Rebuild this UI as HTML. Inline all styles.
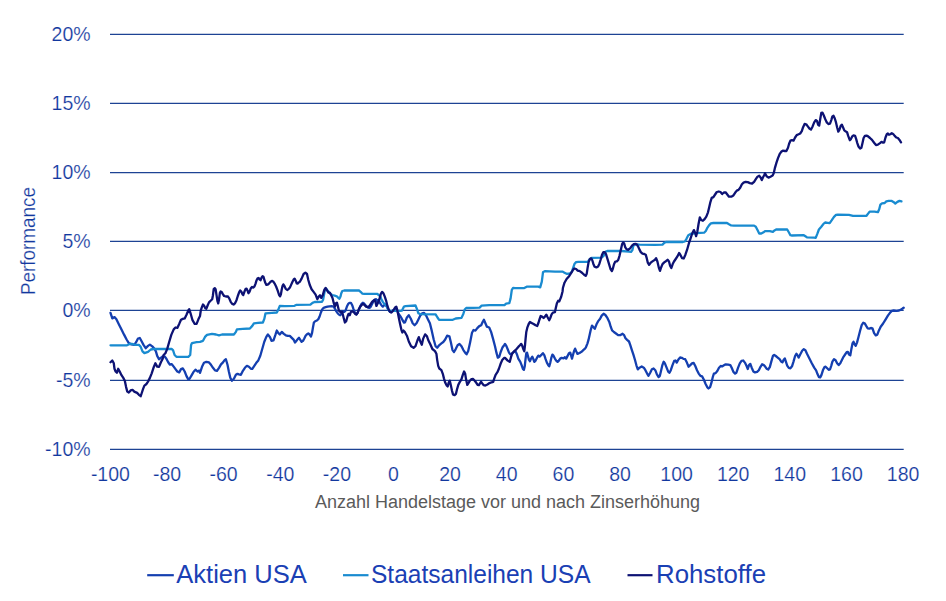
<!DOCTYPE html>
<html><head><meta charset="utf-8"><title>Chart</title>
<style>html,body{margin:0;padding:0;background:#fff;}svg{display:block;}text{font-family:"Liberation Sans",sans-serif;}.thin{stroke:#fff;stroke-width:0.2px;}</style></head><body>
<svg width="946" height="601" viewBox="0 0 946 601">
<rect width="946" height="601" fill="#ffffff"/>
<line x1="110.0" y1="34.4" x2="903.7" y2="34.4" stroke="#1d4394" stroke-width="1.25"/>
<line x1="110.0" y1="103.45" x2="903.7" y2="103.45" stroke="#1d4394" stroke-width="1.25"/>
<line x1="110.0" y1="172.5" x2="903.7" y2="172.5" stroke="#1d4394" stroke-width="1.25"/>
<line x1="110.0" y1="241.4" x2="903.7" y2="241.4" stroke="#1d4394" stroke-width="1.25"/>
<line x1="110.0" y1="310.4" x2="903.7" y2="310.4" stroke="#1d4394" stroke-width="1.25"/>
<line x1="110.0" y1="380.3" x2="903.7" y2="380.3" stroke="#1d4394" stroke-width="1.25"/>
<line x1="110.0" y1="449.3" x2="903.7" y2="449.3" stroke="#1d4394" stroke-width="1.25"/>
<text x="90.6" y="40.6" text-anchor="end" font-size="19.5" class="thin" fill="#12389e">20%</text>
<text x="90.6" y="109.7" text-anchor="end" font-size="19.5" class="thin" fill="#12389e">15%</text>
<text x="90.6" y="178.7" text-anchor="end" font-size="19.5" class="thin" fill="#12389e">10%</text>
<text x="90.6" y="247.6" text-anchor="end" font-size="19.5" class="thin" fill="#12389e">5%</text>
<text x="90.6" y="316.6" text-anchor="end" font-size="19.5" class="thin" fill="#12389e">0%</text>
<text x="90.6" y="386.5" text-anchor="end" font-size="19.5" class="thin" fill="#12389e">-5%</text>
<text x="90.6" y="455.5" text-anchor="end" font-size="19.5" class="thin" fill="#12389e">-10%</text>
<text x="110.4" y="480.6" text-anchor="middle" font-size="19.5" class="thin" fill="#12389e">-100</text>
<text x="167.0" y="480.6" text-anchor="middle" font-size="19.5" class="thin" fill="#12389e">-80</text>
<text x="223.6" y="480.6" text-anchor="middle" font-size="19.5" class="thin" fill="#12389e">-60</text>
<text x="280.3" y="480.6" text-anchor="middle" font-size="19.5" class="thin" fill="#12389e">-40</text>
<text x="336.9" y="480.6" text-anchor="middle" font-size="19.5" class="thin" fill="#12389e">-20</text>
<text x="393.5" y="480.6" text-anchor="middle" font-size="19.5" class="thin" fill="#12389e">0</text>
<text x="450.1" y="480.6" text-anchor="middle" font-size="19.5" class="thin" fill="#12389e">20</text>
<text x="506.7" y="480.6" text-anchor="middle" font-size="19.5" class="thin" fill="#12389e">40</text>
<text x="563.4" y="480.6" text-anchor="middle" font-size="19.5" class="thin" fill="#12389e">60</text>
<text x="620.0" y="480.6" text-anchor="middle" font-size="19.5" class="thin" fill="#12389e">80</text>
<text x="676.6" y="480.6" text-anchor="middle" font-size="19.5" class="thin" fill="#12389e">100</text>
<text x="733.2" y="480.6" text-anchor="middle" font-size="19.5" class="thin" fill="#12389e">120</text>
<text x="789.8" y="480.6" text-anchor="middle" font-size="19.5" class="thin" fill="#12389e">140</text>
<text x="846.5" y="480.6" text-anchor="middle" font-size="19.5" class="thin" fill="#12389e">160</text>
<text x="903.1" y="480.6" text-anchor="middle" font-size="19.5" class="thin" fill="#12389e">180</text>
<text transform="translate(35.2,295) rotate(-90)" font-size="20" class="thin" textLength="108" lengthAdjust="spacingAndGlyphs" fill="#12389e">Performance</text>
<text x="315" y="507.6" font-size="18" textLength="385" lengthAdjust="spacingAndGlyphs" fill="#5a5a5a">Anzahl Handelstage vor und nach Zinserhöhung</text>
<polyline fill="none" stroke="#143fb0" stroke-width="2.3" stroke-linejoin="round" stroke-linecap="round" points="110.5,312.9 112.3,318.4 114.5,317.1 116.4,319.3 118.7,323.9 121.5,329.4 124.2,334.9 126.6,339.5 128.8,343.1 131.6,344.4 134.3,344.9 136.1,342.2 138.0,338.5 139.8,338.0 141.6,341.3 143.5,344.9 145.7,348.2 148.0,345.9 149.9,344.6 152.3,346.4 154.1,348.2 155.9,351.4 157.2,355.9 159.0,359.2 160.9,357.8 162.7,356.3 164.5,356.3 166.4,358.7 168.2,362.3 170.0,364.7 171.8,364.2 173.7,366.6 175.5,369.1 177.3,371.5 179.2,372.4 181.0,369.1 182.8,368.4 184.7,371.5 186.5,376.1 188.3,379.4 189.6,378.8 192.0,374.6 193.8,371.5 195.7,369.7 197.5,371.5 199.3,370.6 200.0,372.8 202.0,366.8 204.0,362.8 206.4,361.8 209.0,362.4 211.0,364.8 213.0,367.8 215.0,370.4 217.0,370.8 219.0,367.8 221.0,364.4 223.0,362.4 224.4,360.4 225.9,359.2 227.5,364.8 228.9,371.8 230.3,377.8 231.9,380.8 233.9,378.8 235.9,374.8 237.5,373.8 238.9,374.4 240.9,374.8 242.9,370.8 244.9,367.8 246.9,365.8 248.9,366.8 250.9,368.8 252.3,368.8 254.3,365.8 256.3,362.8 258.3,360.4 260.3,355.8 262.3,348.8 264.3,341.8 266.3,336.9 267.9,334.5 269.9,336.9 271.5,340.8 273.5,340.4 275.4,334.9 276.8,330.5 278.2,332.9 279.8,334.5 281.8,331.9 283.8,333.9 285.8,335.3 287.8,335.9 289.8,335.9 291.8,337.9 293.8,339.9 295.0,342.5 296.3,340.9 297.7,339.1 299.0,337.8 300.3,339.8 301.6,341.8 303.0,340.9 304.3,338.5 305.6,335.8 307.0,334.2 308.3,333.4 309.6,334.5 311.0,336.5 312.0,333.2 313.0,327.2 313.9,322.5 315.2,321.2 316.9,320.5 318.3,319.2 319.6,316.5 320.9,312.5 322.3,309.2 323.6,307.9 325.6,307.2 327.6,306.6 329.6,306.3 331.6,306.2 333.6,306.6 334.9,308.6 336.2,311.2 337.6,313.2 338.9,314.5 340.2,315.2 341.5,313.9 342.9,311.2 344.2,311.9 345.5,310.6 346.9,306.6 348.2,303.9 349.5,302.8 350.9,302.8 352.2,305.2 353.5,309.2 354.8,312.5 356.2,314.3 357.5,313.2 358.8,309.9 360.2,306.6 361.5,303.9 362.8,302.8 364.1,303.6 365.5,305.2 366.8,306.8 368.1,307.6 369.5,307.9 370.8,306.6 372.1,303.9 373.5,301.2 374.8,299.6 376.1,299.2 377.2,301.2 378.1,299.9 379.0,300.6 380.1,303.2 381.4,305.2 382.8,306.6 384.1,305.2 385.4,304.6 386.8,306.6 388.1,309.2 389.4,311.2 390.7,312.1 392.1,311.2 393.4,310.3 394.7,309.2 396.1,309.2 397.4,311.2 398.7,313.9 400.1,315.9 401.4,317.9 402.7,320.5 404.0,322.5 405.0,322.3 406.9,317.5 408.8,315.2 410.7,318.5 412.7,323.3 414.6,325.2 416.5,323.3 418.4,319.4 420.3,315.6 422.2,313.3 424.1,312.8 426.1,315.6 428.0,319.4 429.9,323.3 431.8,330.9 433.7,339.5 435.6,346.2 437.2,347.8 439.1,345.3 441.4,343.4 443.3,342.0 445.2,339.5 447.1,335.7 449.4,336.3 450.9,342.4 452.5,350.1 454.0,352.0 455.7,349.1 457.6,345.3 459.5,343.9 461.5,346.2 463.4,350.1 465.3,352.9 466.6,354.3 468.2,351.0 470.1,342.4 472.0,332.8 473.5,330.0 475.4,330.6 477.3,328.1 479.3,326.1 481.2,325.2 482.5,322.3 483.9,319.8 485.4,323.3 486.9,326.7 489.2,327.5 491.1,331.9 493.0,338.6 495.0,346.2 496.5,352.9 497.8,357.7 499.2,356.8 500.7,352.0 502.6,347.2 504.5,344.7 505.0,343.9 506.3,345.9 507.7,349.3 509.0,352.6 510.3,354.3 511.7,353.9 513.0,352.6 514.3,351.2 515.6,351.6 517.0,354.6 518.3,358.6 520.3,361.9 521.6,365.2 523.0,369.2 523.9,369.9 524.7,366.6 525.6,358.6 526.3,353.2 527.0,352.6 527.9,355.9 529.0,359.9 530.0,361.2 531.0,358.6 532.3,356.6 533.2,358.6 534.3,361.9 535.6,360.6 536.9,357.9 538.3,355.6 539.6,356.6 541.6,354.6 542.9,353.2 544.3,355.2 545.6,359.2 546.9,362.6 548.3,365.2 549.2,366.3 550.3,362.6 551.3,357.9 552.4,354.6 553.6,355.9 554.9,358.6 556.2,360.6 557.6,361.9 558.9,360.6 560.2,358.6 561.6,357.9 563.6,358.3 564.9,357.2 566.2,358.6 567.6,355.9 568.9,353.2 570.2,352.6 571.2,355.9 572.0,358.6 572.9,355.2 574.2,350.6 575.1,348.6 576.2,351.2 577.5,353.9 578.9,353.2 580.2,352.6 582.2,351.2 583.5,349.9 585.0,348.6 585.9,347.3 587.4,343.6 588.5,339.9 589.6,335.1 590.6,330.4 592.0,325.6 593.5,327.2 594.8,328.8 596.4,324.6 598.0,321.4 600.1,318.7 601.7,315.6 603.6,313.7 605.4,315.0 607.5,318.2 609.3,321.9 610.7,326.7 612.1,330.4 613.9,332.0 616.0,333.5 618.1,335.1 620.5,335.1 622.6,333.8 624.1,335.1 625.5,338.3 627.1,339.9 629.0,341.5 630.3,345.2 631.8,349.9 633.4,354.7 635.0,360.0 636.4,365.3 637.8,369.3 639.5,367.7 641.7,366.5 643.8,367.7 645.4,370.2 647.1,373.6 648.5,375.8 650.2,372.7 651.9,369.3 653.6,368.5 655.3,370.2 656.9,374.4 658.6,377.0 659.8,376.1 661.0,371.0 662.4,365.1 663.7,361.7 664.9,363.4 666.6,367.7 668.3,371.9 669.5,372.7 670.8,370.2 672.5,365.1 674.2,360.9 675.5,360.5 676.7,362.6 678.4,359.5 680.1,357.5 681.8,357.8 683.5,358.9 685.2,359.2 686.9,362.6 688.6,366.8 690.3,365.1 692.0,363.4 693.6,362.9 695.3,366.0 697.0,370.2 698.7,373.6 700.4,375.8 702.1,376.4 703.8,379.5 705.5,383.7 707.2,387.1 708.5,388.5 710.1,387.1 711.4,382.9 712.8,377.0 713.9,373.6 715.6,373.1 717.3,371.0 719.0,367.7 720.7,366.0 722.4,366.3 724.1,365.1 725.8,364.3 728.3,364.6 730.3,365.1 731.7,367.7 733.4,371.9 735.1,373.6 736.4,372.7 738.1,367.7 739.8,363.4 741.5,360.9 743.2,360.5 744.9,362.6 746.6,366.0 747.8,369.0 749.0,365.1 750.3,363.9 751.7,367.7 753.4,371.4 755.0,372.4 757.1,371.9 758.8,370.2 760.5,366.8 762.1,364.3 763.8,365.1 765.0,366.3 766.6,368.7 768.2,369.5 769.8,367.1 771.3,361.6 772.9,356.0 774.2,354.9 775.8,356.0 777.7,357.6 779.6,359.2 781.2,361.6 782.4,362.4 783.7,359.7 784.8,358.4 785.9,361.6 787.2,365.6 788.8,367.9 790.4,368.3 792.0,366.3 793.5,361.6 795.1,356.0 796.4,353.7 797.5,355.3 798.6,357.6 800.2,354.5 802.3,350.5 803.8,349.2 805.4,350.2 807.0,353.7 809.4,358.4 811.8,363.2 814.2,367.6 816.1,370.3 817.6,374.3 818.9,377.1 820.2,377.4 821.4,375.1 822.9,370.3 824.5,367.1 825.6,366.7 827.2,368.3 828.7,369.8 830.0,369.5 831.3,365.6 832.4,361.6 834.0,359.2 835.6,360.3 837.1,363.2 838.7,365.1 840.3,363.2 841.9,360.0 843.5,356.8 845.1,354.5 846.7,352.1 847.8,351.8 849.0,354.5 850.3,355.3 851.4,348.9 852.5,343.4 853.5,341.8 854.6,344.2 855.7,345.7 857.0,342.6 858.5,337.0 860.1,330.7 861.7,325.1 863.3,322.7 864.6,323.2 866.2,325.9 867.7,328.3 869.3,328.6 870.9,328.0 872.5,328.3 874.1,333.1 875.7,335.4 877.3,334.6 878.8,330.7 880.7,326.7 883.1,323.5 885.5,319.6 887.9,315.6 890.3,312.4 891.8,310.9 893.7,310.5 896.6,310.9 899.0,310.5 901.0,309.6 902.6,308.5 903.7,307.7"/>
<polyline fill="none" stroke="#198bd0" stroke-width="2.3" stroke-linejoin="round" stroke-linecap="round" points="110.5,345.3 127.0,345.3 129.7,344.0 132.5,344.0 135.2,344.9 138.9,344.9 140.7,346.8 142.5,351.4 144.4,353.2 148.0,351.9 150.8,349.5 153.5,349.0 156.3,349.0 171.8,349.0 173.1,350.4 174.6,355.0 176.4,356.8 188.3,356.8 190.2,355.0 191.1,344.9 192.0,343.1 196.6,342.2 200.0,341.8 203.0,340.8 205.0,336.9 207.0,334.9 212.0,333.9 216.0,334.5 219.0,335.3 222.0,334.5 227.9,334.5 233.9,334.5 235.9,331.9 236.9,329.3 242.9,328.9 249.9,328.5 252.3,325.9 253.9,323.3 257.9,322.9 262.9,322.5 264.3,318.9 265.5,313.3 271.9,312.9 276.8,312.5 278.2,309.9 279.8,305.9 285.0,306.1 294.5,305.8 296.6,304.8 310.4,304.7 312.5,302.9 314.6,302.0 322.0,301.8 323.1,299.7 324.1,294.4 325.0,289.7 326.0,288.6 327.8,290.7 329.4,292.8 332.0,295.0 334.7,295.7 336.8,296.3 338.4,298.1 339.4,298.7 340.5,296.5 341.2,293.4 342.3,291.0 344.2,290.5 359.0,290.5 360.6,291.8 362.2,293.6 364.3,293.9 377.0,293.9 377.4,293.9 378.8,295.3 380.1,295.9 381.4,299.2 382.8,301.9 384.1,303.6 385.4,304.6 386.8,306.6 388.1,309.2 389.4,310.8 400.1,310.8 402.0,310.6 403.0,308.6 404.0,306.6 405.4,306.2 415.5,305.5 416.9,308.9 418.4,313.3 420.3,314.1 435.6,314.3 437.5,317.5 439.1,319.8 452.8,319.8 455.7,318.5 461.5,317.9 463.4,313.7 464.7,309.5 466.2,308.0 479.6,307.6 481.6,305.7 489.2,305.1 504.5,305.1 506.1,303.6 509.3,303.2 510.6,298.4 511.8,289.8 513.1,287.9 515.0,288.1 524.3,288.1 526.7,286.7 538.3,286.7 540.2,287.4 541.8,281.6 543.0,272.3 544.8,271.1 555.0,271.6 562.4,271.6 564.5,272.7 566.6,273.8 569.8,273.5 571.9,271.6 573.5,266.9 574.6,263.7 576.1,262.1 578.3,261.8 587.8,261.8 589.9,259.0 591.5,257.9 601.5,257.7 603.6,255.8 605.7,251.6 607.3,251.0 618.4,251.0 621.6,251.0 629.0,251.6 631.1,251.9 632.4,250.0 633.2,246.3 634.3,244.5 636.9,244.5 639.6,244.7 655.0,244.9 662.5,244.6 664.2,242.9 665.9,242.0 682.9,242.0 684.9,241.5 686.6,238.6 688.3,235.2 690.5,234.0 693.0,233.5 696.4,233.2 704.1,232.7 705.8,231.0 707.5,227.6 709.2,225.1 710.9,223.4 713.4,223.0 727.0,223.0 729.0,224.2 731.2,225.4 733.8,225.6 754.1,225.6 755.8,226.7 757.5,230.1 759.2,233.5 761.3,233.5 763.5,232.3 765.0,231.1 769.8,231.2 772.9,231.8 774.5,230.4 776.1,229.5 785.6,229.5 787.2,229.5 788.8,232.3 790.4,235.2 792.0,235.5 803.8,235.2 805.4,236.3 807.0,237.4 814.2,237.6 815.7,237.9 817.3,233.9 818.9,229.5 821.3,226.8 823.7,223.6 825.3,222.5 827.6,222.8 829.7,223.1 831.6,220.4 834.0,216.8 836.0,214.9 837.9,214.6 849.0,214.9 853.0,215.8 864.9,215.8 866.5,215.8 868.1,213.6 869.6,211.7 874.4,211.7 877.9,212.2 879.2,209.3 880.4,204.6 882.0,203.3 884.7,203.0 886.3,201.4 888.7,200.9 891.8,200.9 893.4,201.9 895.3,203.5 897.4,201.9 899.5,200.9 901.4,201.4"/>
<polyline fill="none" stroke="#0d1274" stroke-width="2.3" stroke-linejoin="round" stroke-linecap="round" points="110.5,362.3 112.3,360.5 113.8,363.3 114.5,368.8 115.6,371.5 116.9,372.8 118.2,368.8 119.7,371.5 121.5,375.2 123.3,377.9 124.8,380.7 126.1,387.1 127.3,391.6 128.8,392.6 130.6,390.4 132.5,389.8 134.3,391.6 137.1,392.9 138.9,394.8 140.7,396.2 141.6,393.5 143.1,388.9 144.4,385.6 146.2,384.3 148.0,381.6 149.9,377.9 151.7,373.3 153.5,367.8 155.4,363.3 157.2,366.6 159.0,366.9 160.9,362.3 162.7,358.7 163.6,355.0 165.4,353.2 167.3,348.6 169.1,342.2 171.3,334.9 173.7,329.4 175.5,327.5 177.3,327.9 179.2,323.9 181.0,319.7 182.8,318.9 184.7,318.4 186.5,314.7 188.3,310.5 189.2,309.2 190.7,313.8 192.5,320.2 194.7,323.9 196.6,323.9 198.4,319.3 200.0,316.1 200.8,310.3 201.9,307.1 203.0,304.5 204.0,305.5 205.3,308.2 206.3,308.7 207.6,305.5 209.0,302.4 210.6,300.8 212.2,299.2 212.9,295.5 213.7,289.1 214.8,288.1 215.6,289.1 216.4,294.4 217.4,300.8 218.2,303.4 219.0,299.7 219.9,292.8 220.6,291.5 221.7,292.1 222.7,293.9 224.1,296.0 225.9,296.5 227.7,296.3 229.1,298.1 230.7,301.8 232.2,303.9 233.6,304.5 234.9,303.4 236.5,300.2 237.8,296.0 239.1,292.3 240.2,290.4 241.4,291.8 242.5,294.4 243.3,295.0 244.4,291.8 245.5,289.1 246.5,288.6 247.6,290.7 248.4,293.2 249.5,291.8 250.7,288.6 252.0,287.0 253.4,287.6 254.4,286.5 255.5,283.9 256.6,280.2 257.6,278.4 258.7,278.0 259.7,279.6 260.5,280.2 261.5,277.7 262.6,276.2 263.4,276.7 264.3,279.6 265.3,282.8 266.4,284.9 267.7,284.7 269.2,283.3 270.6,281.7 271.9,280.9 273.2,281.5 274.5,283.3 276.1,286.5 277.7,290.7 279.1,295.0 280.1,296.3 280.9,294.4 281.6,290.2 282.5,286.0 283.3,284.4 284.4,286.0 285.6,288.6 287.2,290.0 288.6,289.1 289.9,287.6 291.1,284.9 292.5,281.7 293.9,279.1 294.6,278.6 295.7,280.7 296.7,283.3 297.8,283.6 298.8,282.3 299.7,282.0 301.6,278.6 303.6,274.0 305.4,272.7 307.0,274.0 308.3,280.0 309.9,285.3 311.6,289.3 313.6,291.9 315.6,294.6 317.3,299.2 318.7,296.6 320.0,295.3 321.3,297.9 322.7,295.3 324.3,289.9 325.6,287.9 327.2,290.6 328.5,292.6 329.8,292.6 331.2,295.3 332.5,297.9 333.8,303.2 334.9,306.6 336.0,303.2 336.9,302.6 337.8,305.9 338.9,310.6 340.9,312.5 342.2,311.9 343.5,317.2 344.9,322.5 346.2,321.2 347.5,316.5 348.5,313.9 349.8,315.2 350.9,311.9 352.2,311.2 353.5,311.9 355.1,313.9 356.4,314.5 357.8,312.5 358.8,309.2 360.2,306.6 361.5,305.2 362.8,303.9 364.1,304.6 366.1,306.6 368.1,307.2 369.5,305.9 370.8,303.9 372.1,301.9 373.5,300.6 374.5,299.9 375.5,301.9 376.4,305.9 377.4,303.9 378.5,301.9 379.4,299.2 380.8,293.9 382.1,291.9 383.4,293.3 384.8,296.6 386.1,300.6 387.4,305.9 388.8,309.9 390.1,311.9 391.4,312.5 392.7,311.2 394.1,309.2 395.4,307.2 396.3,306.6 397.4,310.6 398.7,317.2 400.1,323.9 401.4,329.8 402.4,332.5 403.4,330.5 404.7,331.8 406.9,335.7 408.8,341.5 411.1,346.2 413.6,347.8 415.5,346.2 417.4,340.5 418.8,337.1 420.3,341.5 421.8,344.7 423.2,338.6 425.1,334.4 427.0,336.3 428.2,340.0 430.3,344.2 432.4,349.0 435.0,351.1 436.4,353.7 437.2,360.1 438.2,365.9 439.3,368.5 441.4,370.1 442.8,373.8 444.0,378.6 445.3,382.8 446.7,385.5 447.7,386.5 448.8,382.3 449.8,380.7 450.9,385.5 452.0,390.7 453.0,394.4 454.6,395.2 455.9,393.9 456.9,389.7 458.3,384.9 459.9,381.8 461.5,379.1 462.8,374.9 464.1,371.5 465.2,373.8 466.0,379.1 467.3,384.9 468.6,382.8 469.9,380.7 471.5,379.1 473.1,378.9 474.7,380.7 476.3,382.8 477.6,384.9 478.9,385.2 480.0,383.3 481.0,381.8 482.1,383.3 483.7,385.2 485.3,385.5 487.4,384.4 489.5,383.1 491.6,382.3 493.2,381.8 494.2,378.6 495.6,374.9 497.4,372.2 499.0,368.5 500.6,363.8 502.2,360.1 504.1,358.0 505.0,357.9 507.7,360.6 509.7,361.9 511.0,357.2 512.3,353.2 514.3,351.2 516.3,349.3 518.3,346.9 519.9,345.3 521.2,343.9 522.3,345.9 523.4,349.3 524.3,351.2 525.0,345.3 525.6,338.6 526.3,331.9 527.4,327.3 528.7,324.0 530.0,322.0 531.6,322.9 533.6,324.0 535.6,325.3 537.2,326.0 538.3,323.3 539.3,320.0 540.7,316.0 542.0,316.6 543.6,318.0 544.9,316.6 546.3,314.6 547.6,317.3 549.2,320.2 550.3,318.0 551.6,314.4 552.9,312.6 554.9,312.2 555.8,308.0 556.9,303.3 558.2,300.7 559.3,301.4 561.2,296.8 562.6,291.2 562.9,288.0 564.5,282.7 566.6,279.0 569.3,275.9 571.4,272.7 573.2,269.5 574.6,268.5 576.1,269.0 577.7,270.6 579.8,271.1 582.0,272.7 584.1,274.8 585.7,275.9 586.7,273.8 587.6,267.9 588.6,262.1 589.9,259.0 591.2,258.4 592.2,260.0 593.3,263.7 594.6,266.7 596.4,267.4 598.1,266.4 599.4,263.7 600.7,259.5 602.0,254.7 603.4,252.1 604.7,252.1 606.0,254.2 607.3,258.4 608.9,263.7 610.5,269.0 611.9,271.1 612.9,268.5 614.0,264.2 615.3,261.6 616.8,261.4 618.2,260.0 619.5,255.8 620.8,250.0 622.1,244.2 623.2,242.4 624.2,243.6 625.3,247.3 626.7,249.4 628.2,249.8 630.1,248.4 632.0,245.7 633.8,244.2 635.5,243.8 636.9,244.5 638.0,246.3 639.4,249.4 640.8,252.1 642.5,253.7 644.3,254.0 645.7,254.7 646.8,258.4 647.8,262.7 649.1,264.8 650.7,262.7 652.8,261.1 655.0,259.7 656.1,258.1 657.4,261.5 658.8,267.5 660.0,270.9 661.1,267.5 662.5,264.1 664.2,262.4 665.9,261.2 667.6,259.8 669.0,261.5 670.1,265.8 671.3,268.0 672.7,264.1 674.0,261.5 675.7,259.0 677.4,256.4 679.1,253.0 680.3,254.7 682.0,258.1 683.7,258.5 685.4,254.7 687.1,249.7 688.8,243.7 690.5,238.6 692.2,233.5 693.9,230.1 695.1,232.7 696.1,236.1 697.3,231.8 698.5,224.2 699.8,217.4 701.2,220.0 702.9,220.8 704.6,219.1 706.3,216.6 708.0,212.3 709.2,207.2 710.4,202.1 711.7,197.9 713.4,197.1 715.1,194.5 716.8,192.0 718.8,191.5 720.5,192.0 722.2,194.0 723.9,192.5 725.6,192.3 727.3,194.5 729.0,196.7 731.2,196.7 733.4,195.4 735.1,192.8 736.8,190.6 738.5,189.9 740.2,187.7 741.9,184.3 743.6,182.6 745.6,181.8 747.7,182.1 749.9,183.1 752.1,183.5 754.1,181.8 755.8,179.2 757.5,176.7 759.2,175.8 760.6,177.5 761.8,180.1 762.9,177.5 764.3,175.0 765.0,173.2 766.6,176.3 768.5,177.6 770.5,176.7 772.6,175.6 773.7,173.2 774.8,168.4 776.4,162.9 778.0,158.1 779.6,154.2 781.2,151.8 782.8,150.7 784.8,151.0 786.4,151.0 788.0,147.8 789.1,143.8 790.4,140.7 792.0,140.2 793.5,140.7 795.1,137.5 796.7,135.1 798.6,134.3 800.2,133.5 801.8,131.2 803.1,127.2 804.6,124.0 806.2,124.3 807.8,126.4 809.4,128.5 811.0,129.6 812.6,126.4 814.2,122.4 815.7,120.1 817.0,120.9 818.1,124.8 819.2,125.6 820.2,119.3 821.3,112.9 822.4,112.6 823.7,115.3 825.3,119.3 826.8,122.4 828.4,124.0 830.0,123.7 831.3,120.1 832.4,116.4 833.5,115.8 834.8,118.5 836.0,122.4 837.1,127.2 838.3,131.6 839.5,129.6 840.8,125.6 841.9,124.8 843.0,127.2 844.3,130.4 845.9,131.6 847.1,132.3 848.2,135.9 849.8,140.2 850.9,139.1 852.2,136.4 853.5,135.4 855.1,135.9 856.2,139.1 857.3,143.1 858.5,146.5 860.1,148.6 861.4,147.8 862.5,143.1 863.6,138.0 864.9,135.9 866.5,135.6 868.1,136.4 870.0,138.0 872.0,139.9 874.1,142.7 876.0,145.0 877.9,144.6 880.0,143.1 881.5,141.8 883.1,142.7 884.2,142.3 885.5,137.5 886.8,134.3 887.9,133.5 889.0,134.8 890.3,134.3 891.8,133.2 893.1,133.9 894.7,135.9 896.3,137.5 897.9,138.0 899.5,139.9 901.0,142.3"/>
<line x1="147.2" y1="575.2" x2="173.8" y2="575.2" stroke="#143fb0" stroke-width="2.2"/>
<text x="176.3" y="583.2" font-size="26" textLength="130.5" lengthAdjust="spacingAndGlyphs" fill="#1a40b4">Aktien USA</text>
<line x1="343" y1="575.2" x2="368.5" y2="575.2" stroke="#198bd0" stroke-width="2.2"/>
<text x="371" y="583.2" font-size="26" textLength="219.5" lengthAdjust="spacingAndGlyphs" fill="#1a40b4">Staatsanleihen USA</text>
<line x1="627.5" y1="575.2" x2="652.5" y2="575.2" stroke="#0d1274" stroke-width="2.2"/>
<text x="656" y="583.2" font-size="26" textLength="110" lengthAdjust="spacingAndGlyphs" fill="#1a40b4">Rohstoffe</text>
</svg></body></html>
